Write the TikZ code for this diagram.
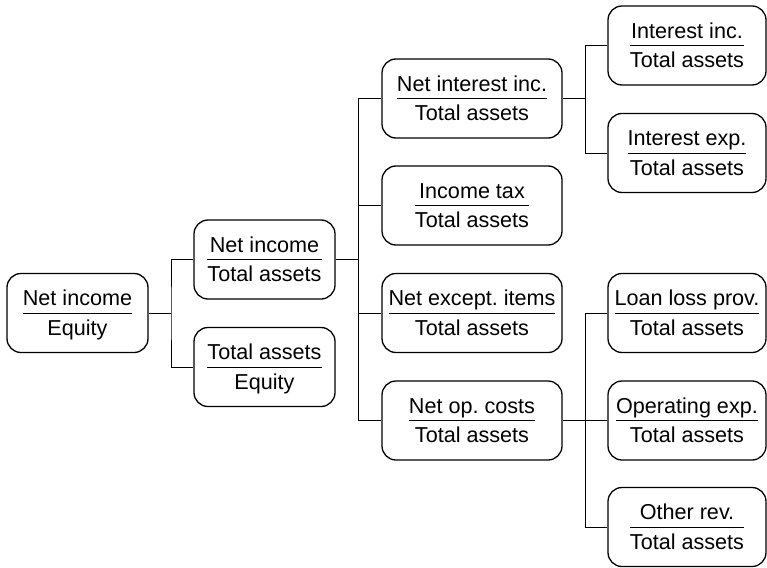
\documentclass[tikz,border=0pt]{standalone}
\usepackage{fontspec}
\setmainfont{Liberation Sans}
\frenchspacing
\newcommand\fr[2]{{\renewcommand\arraystretch{0}\begin{tabular}{@{}c@{}}\rule[-7pt]{0pt}{29pt}#1\\\hline\rule[-7pt]{0pt}{29pt}#2\end{tabular}}}
\begin{document}
\begin{tikzpicture}[x=1pt,y=-1pt,
  box/.style={draw,rounded corners=14pt,line width=1.3pt,minimum height=79pt,inner sep=0pt,font=\fontsize{21.6pt}{25pt}\selectfont\frenchspacing},
  boxA/.style={box,minimum width=141pt},
  boxB/.style={box,minimum width=180pt},
  boxC/.style={box,minimum width=158pt},
  conn/.style={line width=1pt}]
\useasboundingbox (0,0) rectangle (767,567);
\node[boxA] (roe) at (77.5,313) {\fr{Net income}{Equity}};
\node[boxA] (roa) at (264.5,259.5) {\fr{Net income}{Total assets}};
\node[boxA] (lev) at (264.5,367) {\fr{Total assets}{Equity}};
\node[boxB] (nii) at (472,98.5) {\fr{Net interest inc.}{Total assets}};
\node[boxB] (tax) at (472,205.5) {\fr{Income tax}{Total assets}};
\node[boxB] (nei) at (472,313) {\fr{Net except. items}{Total assets}};
\node[boxB] (noc) at (472,420.5) {\fr{Net op. costs}{Total assets}};
\node[boxC] (ii) at (687,45.5) {\fr{Interest inc.}{Total assets}};
\node[boxC] (ie) at (687,153) {\fr{Interest exp.}{Total assets}};
\node[boxC] (llp) at (687,313) {\fr{Loan loss prov.}{Total assets}};
\node[boxC] (oe) at (687,420.5) {\fr{Operating exp.}{Total assets}};
\node[boxC] (or) at (687,527) {\fr{Other rev.}{Total assets}};
% level 1
\draw[conn] (roe.east) -- (171,313);
\draw[conn] (roa.west) -| (171,313) |- (lev.west);
% level 2
\draw[conn] (roa.east) -- (358,259.5);
\draw[conn] (nii.west) -| (358,259.5);
\draw[conn] (tax.west) -| (358,259.5);
\draw[conn] (nei.west) -- (358,313);
\draw[conn] (noc.west) -| (358,259.5);
% level 3
\draw[conn] (nii.east) -- (585,98.5);
\draw[conn] (ii.west) -| (585,98.5) |- (ie.west);
\draw[conn] (noc.east) -- (oe.west);
\draw[conn] (llp.west) -| (585,420.5) |- (or.west);
\end{tikzpicture}
\end{document}
